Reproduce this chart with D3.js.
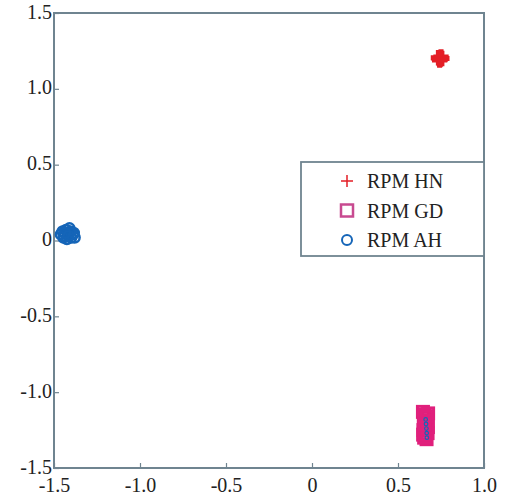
<!DOCTYPE html>
<html><head><meta charset="utf-8">
<script src="https://cdn.jsdelivr.net/npm/d3@7"></script>
<style>body{margin:0;background:#fff}</style>
</head><body><svg id="c" width="505" height="501"></svg>
<script>
const xTicks = [-1.5, -1.0, -0.5, 0, 0.5, 1.0];
const yTicks = [-1.5, -1.0, -0.5, 0, 0.5, 1.0, 1.5];
const tickFmt = v => v === 0 ? "0" : d3.format(".1f")(v).replace("\u2212", "-");

const seriesNames = ["RPM HN", "RPM GD", "RPM AH"];
const hnX = [0.74, 0.75, 0.745, 0.735, 0.755, 0.742];
const hnY = [1.20, 1.21, 1.195, 1.205, 1.20, 1.19];
const gdX = [0.645, 0.655, 0.665, 0.675, 0.65, 0.66, 0.67, 0.648, 0.672, 0.658, 0.666, 0.652, 0.674, 0.646, 0.668, 0.654];
const gdY = [-1.13, -1.15, -1.17, -1.14, -1.20, -1.22, -1.19, -1.25, -1.27, -1.29, -1.31, -1.30, -1.23, -1.28, -1.16, -1.21];
const ahX = [-1.46, -1.45, -1.44, -1.43, -1.42, -1.41, -1.40, -1.39, -1.38, -1.445, -1.425, -1.405, -1.385, -1.415, -1.435];
const ahY = [0.04, 0.06, 0.03, 0.07, 0.05, 0.08, 0.02, 0.04, 0.02, 0.02, 0.01, 0.06, 0.05, 0.03, 0.05];
const innerX = [0.661, 0.663, 0.665, 0.667, 0.668];
const innerY = [-1.18, -1.21, -1.24, -1.27, -1.30];

const svg = d3.select("#c");
const L = 54, R = 484, T = 13, B = 468;
const x = d3.scaleLinear().domain([-1.5, 1.0]).range([L, R]);
const y = d3.scaleLinear().domain([-1.5, 1.5]).range([B, T]);
const axisCol = "#6f8490";
const font = "'Liberation Serif', 'Times New Roman', Times, serif";

const gx = svg.append("g").attr("transform", `translate(0,${B})`)
  .call(d3.axisBottom(x).tickValues(xTicks).tickFormat(tickFmt).tickSizeInner(-5).tickSizeOuter(0).tickPadding(10));
const gy = svg.append("g").attr("transform", `translate(${L},0)`)
  .call(d3.axisLeft(y).tickValues(yTicks).tickFormat(tickFmt).tickSizeInner(-5).tickSizeOuter(0).tickPadding(2));
[gx, gy].forEach(g => {
  g.select(".domain").remove();
  g.selectAll(".tick line").attr("stroke", axisCol).attr("stroke-width", 1.2);
  g.selectAll("text").attr("fill", "#222").style("font-family", font).style("font-size", "20px");
});
gy.selectAll(".tick text").attr("dy", "0.25em");
svg.append("rect").attr("x", L).attr("y", T).attr("width", R - L).attr("height", B - T)
  .attr("fill", "none").attr("stroke", axisCol).attr("stroke-width", 2);

const red = "#e41e26", mag = "#e0207c", blue = "#1565b8";
const plus = d3.symbol().type(d3.symbolCross).size(130);

// GD squares
svg.append("g").selectAll("rect").data(gdX).join("rect")
  .attr("x", (d, i) => x(d) - 5.5).attr("y", (d, i) => y(gdY[i]) - 5.5)
  .attr("width", 11).attr("height", 11)
  .attr("fill", "none").attr("stroke", mag).attr("stroke-width", 3);
// inner blue marks
svg.append("g").selectAll("circle").data(innerX).join("circle")
  .attr("cx", d => x(d)).attr("cy", (d, i) => y(innerY[i])).attr("r", 1.8)
  .attr("fill", "none").attr("stroke", blue).attr("stroke-width", 1.2);
// HN pluses
svg.append("g").selectAll("path").data(hnX).join("path")
  .attr("d", plus).attr("transform", (d, i) => `translate(${x(d)},${y(hnY[i])})`)
  .attr("fill", red);
// AH circles
svg.append("g").selectAll("circle").data(ahX).join("circle")
  .attr("cx", d => x(d)).attr("cy", (d, i) => y(ahY[i])).attr("r", 5)
  .attr("fill", "none").attr("stroke", blue).attr("stroke-width", 2.5);

// legend
const lg = svg.append("g");
lg.append("rect").attr("x", 301).attr("y", 162).attr("width", 183).attr("height", 94)
  .attr("fill", "#fff").attr("stroke", axisCol).attr("stroke-width", 1.8);
seriesNames.forEach((n, i) => {
  const cy = 181 + i * 29.5, cx = 347;
  if (i === 0) {
    lg.append("path").attr("d", "M" + (cx - 6) + "," + cy + "H" + (cx + 6) + "M" + cx + "," + (cy - 6) + "V" + (cy + 6))
      .attr("stroke", red).attr("stroke-width", 1.5);
  } else if (i === 1) {
    lg.append("rect").attr("x", cx - 6).attr("y", cy - 6).attr("width", 12).attr("height", 12)
      .attr("fill", "none").attr("stroke", "#c84a90").attr("stroke-width", 2.5);
  } else {
    lg.append("circle").attr("cx", cx).attr("cy", cy).attr("r", 5)
      .attr("fill", "none").attr("stroke", blue).attr("stroke-width", 2);
  }
  lg.append("text").attr("x", 367).attr("y", cy).attr("dy", "0.35em")
    .style("font-family", font).style("font-size", "20px").attr("fill", "#222").text(n);
});
</script></body></html>
